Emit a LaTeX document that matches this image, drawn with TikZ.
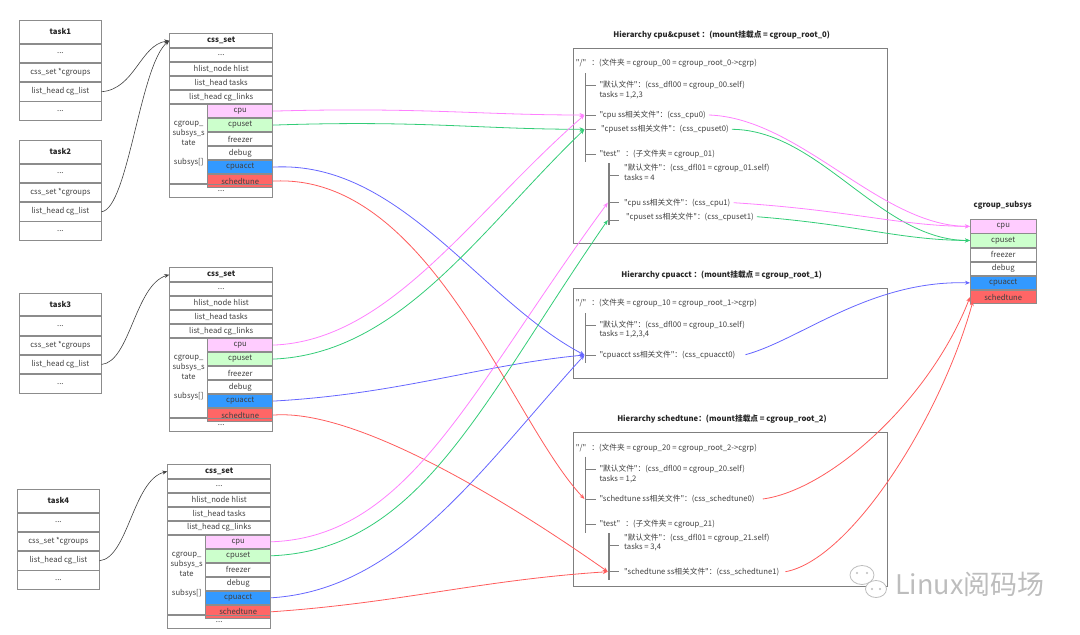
\documentclass[tikz,border=0pt]{standalone}
\usepackage{fontspec}
\setmainfont{Noto Sans CJK SC}[Ligatures=TeXOff]
\usetikzlibrary{arrows.meta}
\definecolor{cellborder}{HTML}{8C8C8C}
\definecolor{txt}{HTML}{404040}
\definecolor{ttl}{HTML}{262626}
\definecolor{cpuc}{HTML}{FFCCFF}
\definecolor{cpusetc}{HTML}{CCFFCC}
\definecolor{acctc}{HTML}{3399FF}
\definecolor{schedc}{HTML}{FF6666}
\definecolor{mg}{HTML}{FF80FF}
\definecolor{gr}{HTML}{33CC77}
\definecolor{bl}{HTML}{6666FF}
\definecolor{rd}{HTML}{FF5C5C}
\definecolor{barc}{HTML}{7F7F7F}
\definecolor{tarrc}{HTML}{404040}
\definecolor{wmc}{HTML}{BDBDBD}
\newcommand\myfs{\fontsize{7.7}{10}\selectfont}
\tikzset{
 cell/.style={draw=cellborder, line width=0.8pt, rectangle, inner sep=0pt, anchor=north west, font=\myfs, text=txt},
 tcell/.style={cell, minimum width=81.4pt, minimum height=18.5pt},
 ttitle/.style={cell, minimum width=81.4pt, minimum height=22.7pt, font=\myfs\bfseries, text=ttl},
 ccell/.style={cell, minimum width=103pt, minimum height=13.2pt},
 ctitle/.style={cell, minimum width=103pt, minimum height=14pt, font=\myfs\bfseries, text=ttl},
 scell/.style={cell, minimum width=65pt, minimum height=13.2pt},
 gcell/.style={cell, minimum width=65.7pt, minimum height=13.33pt},
 hbox/.style={draw=barc, line width=0.9pt, rectangle, inner sep=0pt, anchor=north west},
 htitle/.style={font=\myfs\bfseries, text=ttl, inner sep=0pt},
 ent/.style={anchor=west, inner sep=0pt, font=\myfs, text=txt},
 bar/.style={draw=barc, line width=1.4pt},
 tick/.style={draw=barc, line width=1pt},
 arr/.style={-{Stealth[length=5pt,width=4pt]}, line width=0.8pt},
 tarr/.style={-{Stealth[length=5pt,width=4pt]}, draw=tarrc, line width=0.6pt},
}
\newcommand\taskbox[4]{%
 \node[ttitle] (#1-t) at (#2,#3) {#4};
 \node[tcell] (#1-a) at (#1-t.south west) {...};
 \node[tcell] (#1-g) at (#1-a.south west) {css\_set *cgroups};
 \node[tcell] (#1-l) at (#1-g.south west) {list\_head cg\_list};
 \node[tcell] (#1-b) at (#1-l.south west) {...};
}
\newcommand\cssbox[3]{%
 \node[ctitle] (#1-t) at (#2,#3) {css\_set};
 \node[ccell] (#1-a) at (#1-t.south west) {...};
 \node[ccell] (#1-h) at (#1-a.south west) {hlist\_node hlist};
 \node[ccell] (#1-k) at (#1-h.south west) {list\_head tasks};
 \node[ccell] (#1-n) at (#1-k.south west) {list\_head cg\_links};
 \node[cell, minimum width=38pt, minimum height=79.2pt, align=center] (#1-s) at (#1-n.south west) {cgroup\_\\subsys\_s\\tate\\[9.3pt]subsys[]};
 \node[scell, fill=cpuc] (#1-cpu) at ([xshift=38pt]#1-n.south west) {cpu};
 \node[scell, fill=cpusetc] (#1-cpuset) at (#1-cpu.south west) {cpuset};
 \node[scell] (#1-frz) at (#1-cpuset.south west) {freezer};
 \node[scell] (#1-dbg) at (#1-frz.south west) {debug};
 \node[scell, fill=acctc] (#1-acct) at (#1-dbg.south west) {cpuacct};
 \node[scell, fill=schedc] (#1-sched) at (#1-acct.south west) {schedtune};
 \node[ccell] (#1-e) at (#1-s.south west) {...};
}
\begin{document}
\begin{tikzpicture}[x=1pt,y=-1pt]
\useasboundingbox (0,0) rectangle (1080,635);
% tasks
\taskbox{t1}{19.3}{20}{task1}
\taskbox{t2}{19.3}{140}{task2}
\taskbox{t3}{19.3}{292.7}{task3}
\taskbox{t4}{17.3}{489}{task4}
% css sets
\cssbox{c1}{169.3}{33.3}
\cssbox{c2}{169.3}{267.3}
\cssbox{c3}{167.3}{464}
% hierarchy 0
\node[htitle] (H0t) at (721.7,35) {Hierarchy cpu\&cpuset ：(mount挂载点 = cgroup\_root\_0)};
\node[hbox, minimum width=314pt, minimum height=194.4pt] (H0) at (572.7,48.3) {};
\node[ent] (h0root) at (575.7,63.3) {"/"\ \ \ ：(文件夹 = cgroup\_00 = cgroup\_root\_0->cgrp)};
\node[ent] (h0dfl) at (599.3,85) {"默认文件"：(css\_dfl00 = cgroup\_00.self)};
\node[ent] (h0tk) at (599.3,95) {tasks = 1,2,3};
\node[ent] (h0cpu) at (599.3,115) {"cpu ss相关文件"：(css\_cpu0)};
\node[ent] (h0cpuset) at (601,129.3) {"cpuset ss相关文件"：(css\_cpuset0)};
\node[ent] (h0test) at (599.3,154.3) {"test"\ \ \ ：(子文件夹 = cgroup\_01)};
\node[ent] (h1dfl) at (624,167.7) {"默认文件"：(css\_dfl01 = cgroup\_01.self)};
\node[ent] (h1tk) at (624,177.3) {tasks = 4};
\node[ent] (h1cpu) at (624,202.7) {"cpu ss相关文件"：(css\_cpu1)};
\node[ent] (h1cpuset) at (626,216.7) {"cpuset ss相关文件"：(css\_cpuset1)};
\draw[bar] (585.7,73.3) -- (585.7,161.7);
\foreach \yy in {85,115,129.3,154.3} \draw[tick] (585.7,\yy) -- (596,\yy);
\draw[bar] (609,163.3) -- (609,225);
\foreach \yy in {175,202.7,220} \draw[tick] (609,\yy) -- (619,\yy);
\coordinate (a0cpu) at (584.5,115);
\coordinate (a0cpuset) at (584.5,129.3);
\coordinate (a1cpu) at (607.8,202.7);
\coordinate (a1cpuset) at (607.8,220);
% hierarchy 1
\node[htitle] (HAt) at (721.7,275) {Hierarchy cpuacct ：(mount挂载点 = cgroup\_root\_1)};
\node[hbox, minimum width=314pt, minimum height=90pt] (HA) at (572.7,288.3) {};
\node[ent] (hAroot) at (575.7,303.3) {"/"\ \ \ ：(文件夹 = cgroup\_10 = cgroup\_root\_1->cgrp)};
\node[ent] (hAdfl) at (599.3,324.7) {"默认文件"：(css\_dfl00 = cgroup\_10.self)};
\node[ent] (hAtk) at (599.3,334.3) {tasks = 1,2,3,4};
\node[ent] (hAacct) at (599.3,354.7) {"cpuacct ss相关文件"：(css\_cpuacct0)};
\draw[bar] (585.7,313.3) -- (585.7,363.3);
\foreach \yy in {325,355} \draw[tick] (585.7,\yy) -- (596,\yy);
\coordinate (aAacct) at (584.5,355);
% hierarchy 2
\node[htitle] (HBt) at (722,419) {Hierarchy schedtune：(mount挂载点 = cgroup\_root\_2)};
\node[hbox, minimum width=314pt, minimum height=153.7pt] (HB) at (572.7,432.3) {};
\node[ent] (hBroot) at (575.7,448.3) {"/"\ \ \ ：(文件夹 = cgroup\_20 = cgroup\_root\_2->cgrp)};
\node[ent] (hBdfl) at (599.3,469.3) {"默认文件"：(css\_dfl00 = cgroup\_20.self)};
\node[ent] (hBtk) at (599.3,479) {tasks = 1,2};
\node[ent] (hBsched0) at (599.3,499) {"schedtune ss相关文件"：(css\_schedtune0)};
\node[ent] (hBtest) at (599.3,524) {"test"\ \ \ ：(子文件夹 = cgroup\_21)};
\node[ent] (hCdfl) at (624,537.7) {"默认文件"：(css\_dfl01 = cgroup\_21.self)};
\node[ent] (hCtk) at (624,547.3) {tasks = 3,4};
\node[ent] (hBsched1) at (624,571.7) {"schedtune ss相关文件"：(css\_schedtune1)};
\draw[bar] (585.7,456.7) -- (585.7,533.3);
\foreach \yy in {469.3,499,524} \draw[tick] (585.7,\yy) -- (596,\yy);
\draw[bar] (609,533.3) -- (609,580);
\foreach \yy in {545,571.7} \draw[tick] (609,\yy) -- (619,\yy);
\coordinate (aBsched0) at (584.5,499);
\coordinate (aBsched1) at (607.8,571.7);
% cgroup_subsys
\node[htitle] (Gt) at (1002.8,205) {cgroup\_subsys};
\node[gcell, fill=cpuc] (g-cpu) at (970,219.3) {cpu};
\node[gcell, fill=cpusetc] (g-cpuset) at (g-cpu.south west) {cpuset};
\node[gcell] (g-frz) at (g-cpuset.south west) {freezer};
\node[gcell] (g-dbg) at (g-frz.south west) {debug};
\node[gcell, fill=acctc] (g-acct) at (g-dbg.south west) {cpuacct};
\node[gcell, fill=schedc] (g-sched) at (g-acct.south west) {schedtune};
% task -> css_set
\draw[tarr] (t1-l.east) .. controls (135,89) and (140,45) .. (c1-t.west);
\draw[tarr] (t2-l.east) .. controls (128,209) and (140,65) .. (c1-t.west);
\draw[tarr] (t3-l.east) .. controls (130,362) and (135,285) .. (c2-t.west);
\draw[tarr] (t4-l.east) .. controls (128,558) and (133,480) .. (c3-t.west);
% css_set1
\draw[arr, mg] (c1-cpu.east) .. controls (420,107) and (480,115) .. (a0cpu);
\draw[arr, gr] (c1-cpuset.east) .. controls (420,120) and (480,129.3) .. (a0cpuset);
\draw[arr, bl] (c1-acct.east) .. controls (400,160) and (480,300) .. (aAacct);
\draw[arr, rd] (c1-sched.east) .. controls (430,172.7) and (510,420) .. (aBsched0);
% css_set2
\draw[arr, mg] (c2-cpu.east) .. controls (390,340.7) and (470,215) .. (a0cpu);
\draw[arr, gr] (c2-cpuset.east) .. controls (400,354) and (480,230) .. (a0cpuset);
\draw[arr, bl] (c2-acct.east) .. controls (400,394) and (480,365) .. (aAacct);
\draw[arr, rd] (c2-sched.east) .. controls (360,408) and (520,510) .. (aBsched1);
% css_set3
\draw[arr, mg] (c3-cpu.east) .. controls (410,537) and (470,390) .. (a1cpu);
\draw[arr, gr] (c3-cpuset.east) .. controls (420,550) and (480,405) .. (a1cpuset);
\draw[arr, bl] (c3-acct.east) .. controls (400,590) and (480,470) .. (aAacct);
\draw[arr, rd] (c3-sched.east) .. controls (400,603) and (480,580) .. (aBsched1);
% hierarchy -> cgroup_subsys
\draw[arr, mg] ([xshift=3pt]h0cpu.east) .. controls (800,118) and (880,226) .. (g-cpu.west);
\draw[arr, gr] ([xshift=3pt]h0cpuset.east) .. controls (820,130) and (880,240) .. (g-cpuset.west);
\draw[arr, mg] ([xshift=3pt]h1cpu.east) .. controls (850,210) and (900,226) .. (g-cpu.west);
\draw[arr, gr] ([xshift=3pt]h1cpuset.east) .. controls (860,225) and (900,240) .. (g-cpuset.west);
\draw[arr, bl] ([xshift=10pt]hAacct.east) .. controls (800,340) and (870,280) .. (g-acct.west);
\draw[arr, rd] ([xshift=8pt]hBsched0.east) .. controls (830,490) and (930,400) .. (g-sched.west);
\draw[arr, rd] ([xshift=6pt]hBsched1.east) .. controls (850,560) and (940,420) .. ([xshift=3pt,yshift=-4pt]g-sched.west);
% watermark
\draw[wmc, line width=0.8pt, fill=white] (862,575) ellipse (12 and 9.5);
\draw[wmc, line width=0.8pt, fill=white] (876,589) ellipse (10.5 and 8.5);
\fill[wmc] (857,573) circle (1.2) (867,573) circle (1.2) (872,589) circle (1.2) (880,589) circle (1.2);
\node[anchor=west, inner sep=0pt, text=wmc, font=\fontsize{27}{29}\selectfont] (wm) at (895,584) {Linux阅码场};
\end{tikzpicture}
\end{document}
